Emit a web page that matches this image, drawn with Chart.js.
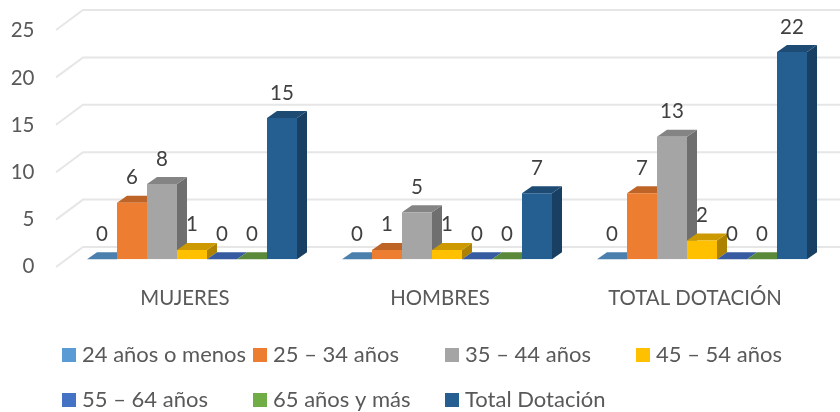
<!DOCTYPE html>
<html><head><meta charset="utf-8">
<script src="https://cdn.jsdelivr.net/npm/chart.js@4"></script>
<style>html,body{margin:0;padding:0;background:#fff}canvas{display:block;filter:blur(0.45px)}</style>
</head><body><canvas id="c" width="840" height="412"></canvas>
<script>
const categories = ["MUJERES", "HOMBRES", "TOTAL DOTACIÓN"];
const seriesNames = ["24 años o menos", "25 – 34 años", "35 – 44 años", "45 – 54 años", "55 – 64 años", "65 años y más", "Total Dotación"];
const age24 = [0, 0, 0];
const age25 = [6, 1, 7];
const age35 = [8, 5, 13];
const age45 = [1, 1, 2];
const age55 = [0, 0, 0];
const age65 = [0, 0, 0];
const total = [15, 7, 22];
const seriesValues = [age24, age25, age35, age45, age55, age65, total];
const frontColors = ["#5B9BD5", "#ED7D31", "#A5A5A5", "#FFC000", "#4472C4", "#70AD47", "#255E91"];
const topColors = ["#4A7FAE", "#BE6427", "#848484", "#CC9A00", "#365BA0", "#5A8A39", "#1E4B74"];
const sideColors = ["#3A6690", "#A05420", "#6F6F6F", "#AD8200", "#2E4E88", "#4B7330", "#193F62"];
const yTicks = [0, 5, 10, 15, 20, 25];
const FONT = "Lato, Carlito, sans-serif";

const depth = {dx: 10, dy: -7};

const wall3d = {
  id: "wall3d",
  beforeDatasetsDraw(chart) {
    const ctx = chart.ctx, y = chart.scales.y;
    ctx.save();
    ctx.strokeStyle = "#E6E6E6";
    ctx.lineWidth = 2;
    yTicks.forEach(v => {
      const py = y.getPixelForValue(v) - 12.3 - v * 0.06;
      ctx.beginPath();
      ctx.moveTo(56, py + 20);
      ctx.lineTo(83, py);
      ctx.lineTo(840, py);
      ctx.stroke();
    });
    chart.data.datasets.forEach((ds, di) => {
      chart.getDatasetMeta(di).data.forEach(bar => {
        const l = bar.x - bar.width / 2, r = bar.x + bar.width / 2, t = bar.y, b = bar.base;
        const poly = (pts, c) => {
          ctx.fillStyle = c;
          ctx.beginPath();
          pts.forEach((p, i) => i ? ctx.lineTo(p[0], p[1]) : ctx.moveTo(p[0], p[1]));
          ctx.closePath();
          ctx.fill();
        };
        poly([[r, b], [r + depth.dx, b + depth.dy], [r + depth.dx, t + depth.dy], [r, t]], sideColors[di]);
        poly([[l, t], [l + depth.dx, t + depth.dy], [r + depth.dx, t + depth.dy], [r, t]], topColors[di]);
      });
    });
    ctx.restore();
  },
  afterDatasetsDraw(chart) {
    const ctx = chart.ctx;
    ctx.save();
    ctx.fillStyle = "#404040";
    ctx.font = "20.5px " + FONT;
    ctx.textAlign = "center";
    ctx.textBaseline = "middle";
    chart.data.datasets.forEach((ds, di) => {
      chart.getDatasetMeta(di).data.forEach((bar, i) => {
        ctx.fillText(String(ds.data[i]), bar.x, bar.y - 25);
      });
    });
    // legend
    const colX = [62, 253, 445, 636];
    const rowY = [355, 400];
    ctx.font = "22px " + FONT;
    ctx.textAlign = "left";
    chart.data.datasets.forEach((ds, di) => {
      const x = colX[di < 4 ? di : di - 4], yy = rowY[di < 4 ? 0 : 1];
      ctx.fillStyle = frontColors[di];
      ctx.fillRect(x, yy - 7, 14, 14);
      ctx.fillStyle = "#595959";
      ctx.fillText(ds.label, x + 20, yy);
    });
    ctx.restore();
  }
};

new Chart(document.getElementById("c"), {
  type: "bar",
  data: {
    labels: categories,
    datasets: seriesNames.map((n, i) => ({
      label: n, data: seriesValues[i], backgroundColor: frontColors[i], borderWidth: 0
    }))
  },
  options: {
    responsive: false,
    animation: false,
    layout: {padding: {top: 23.8, right: 10.5, bottom: 92.7, left: 0}},
    datasets: {bar: {categoryPercentage: 0.8235, barPercentage: 1}},
    plugins: {legend: {display: false}, title: {display: false}, tooltip: {enabled: false}},
    scales: {
      x: {
        grid: {display: false}, border: {display: false},
        afterFit(s) { s.height = 60; },
        ticks: {font: {family: FONT, size: 20.4}, color: "#595959", padding: 19, labelOffset: -7, maxRotation: 0, autoSkip: false}
      },
      y: {
        min: 0, max: 25,
        grid: {display: false, drawTicks: false}, border: {display: false},
        afterFit(s) { s.width = 64.5; s.paddingTop = 0; s.paddingBottom = 0; },
        ticks: {stepSize: 5, font: {family: FONT, size: 20.5}, color: "#595959", padding: 30, labelOffset: 7}
      }
    }
  },
  plugins: [wall3d]
});
</script>
</body></html>
